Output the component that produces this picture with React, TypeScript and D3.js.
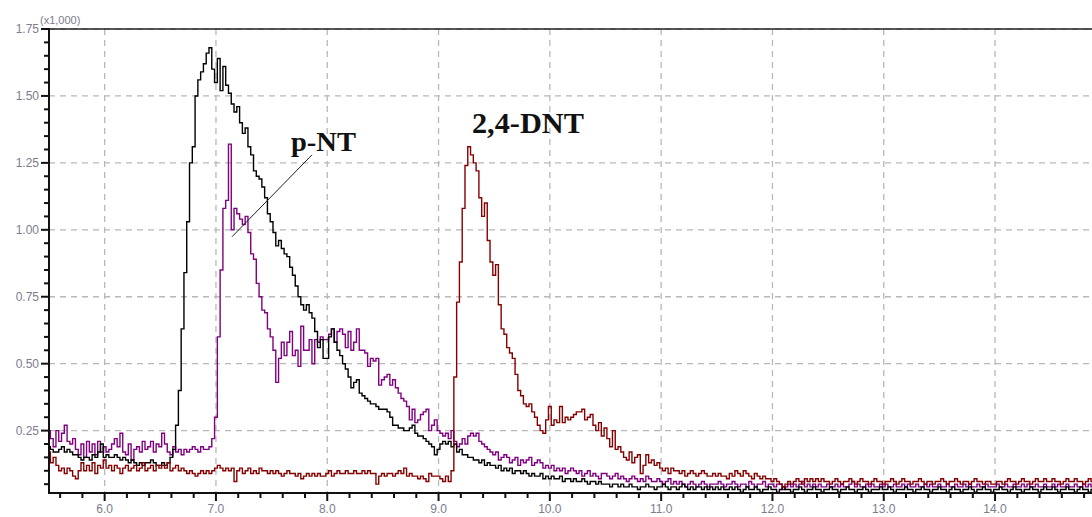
import React from "react";
import * as d3 from "d3";

// sampling of the chromatograms (minutes)
const T0 = 5.5;
const DT = 0.025;

// intensity (x1,000), one row = 0.5 min
const blackSignal = [
  0.19,0.18,0.17,0.17,0.18,0.19,0.17,0.18,0.17,0.16,0.16,0.15,0.14,0.15,0.15,0.14,0.16,0.15,0.17,0.20,
  0.15,0.16,0.15,0.15,0.16,0.15,0.14,0.15,0.14,0.13,0.14,0.13,0.12,0.13,0.12,0.13,0.13,0.14,0.13,0.12,
  0.12,0.13,0.12,0.13,0.15,0.18,0.27,0.40,0.63,0.84,1.03,1.25,1.31,1.50,1.56,1.59,1.62,1.66,1.68,1.60,
  1.55,1.64,1.52,1.61,1.54,1.51,1.47,1.44,1.46,1.40,1.36,1.38,1.31,1.28,1.22,1.20,1.19,1.16,1.12,1.06,
  1.03,0.99,0.94,0.96,0.93,0.91,0.90,0.86,0.83,0.79,0.75,0.72,0.70,0.72,0.69,0.67,0.62,0.56,0.59,0.52,
  0.52,0.60,0.63,0.58,0.55,0.53,0.50,0.48,0.45,0.41,0.43,0.44,0.39,0.38,0.37,0.36,0.35,0.35,0.34,0.33,
  0.33,0.33,0.32,0.30,0.27,0.27,0.26,0.26,0.25,0.25,0.26,0.27,0.24,0.23,0.23,0.22,0.21,0.20,0.19,0.16,
  0.18,0.20,0.21,0.20,0.21,0.19,0.20,0.17,0.18,0.16,0.16,0.15,0.15,0.14,0.14,0.13,0.14,0.12,0.13,0.12,
  0.12,0.11,0.12,0.10,0.11,0.10,0.11,0.09,0.10,0.10,0.09,0.10,0.09,0.08,0.09,0.08,0.08,0.09,0.07,0.08,
  0.07,0.08,0.07,0.07,0.08,0.06,0.07,0.07,0.06,0.07,0.06,0.06,0.07,0.06,0.05,0.06,0.06,0.05,0.06,0.05,
  0.05,0.05,0.04,0.05,0.05,0.04,0.05,0.04,0.04,0.05,0.04,0.04,0.03,0.04,0.04,0.05,0.04,0.04,0.03,0.04,
  0.04,0.05,0.04,0.03,0.04,0.04,0.03,0.04,0.05,0.04,0.03,0.04,0.03,0.04,0.04,0.03,0.04,0.03,0.04,0.03,
  0.04,0.03,0.04,0.03,0.03,0.04,0.03,0.04,0.03,0.02,0.03,0.04,0.03,0.03,0.04,0.03,0.02,0.03,0.03,0.04,
  0.03,0.03,0.02,0.03,0.04,0.03,0.03,0.02,0.03,0.03,0.04,0.03,0.02,0.03,0.03,0.04,0.03,0.03,0.02,0.03,
  0.03,0.04,0.03,0.03,0.02,0.03,0.03,0.04,0.03,0.03,0.02,0.03,0.03,0.04,0.03,0.02,0.03,0.03,0.03,0.04,
  0.03,0.03,0.04,0.03,0.02,0.03,0.03,0.03,0.04,0.03,0.03,0.02,0.03,0.03,0.04,0.03,0.03,0.02,0.03,0.03,
  0.04,0.03,0.03,0.02,0.03,0.04,0.03,0.03,0.02,0.03,0.03,0.04,0.03,0.02,0.03,0.03,0.04,0.03,0.03,0.02,
  0.03,0.03,0.04,0.03,0.03,0.02,0.03,0.04,0.03,0.03,0.02,0.03,0.03,0.04,0.03,0.03,0.02,0.03,0.04,0.03,
  0.03,0.04,0.03,0.02,0.03,0.03,0.04,0.03,0.03,0.02,0.03,0.04,0.03,0.03,0.02,0.03,0.03,0.04,0.03,0.03,
];

const purpleSignal = [
  0.25,0.22,0.19,0.25,0.21,0.24,0.27,0.21,0.20,0.22,0.18,0.16,0.20,0.15,0.21,0.17,0.20,0.16,0.21,0.17,
  0.19,0.17,0.18,0.20,0.22,0.19,0.24,0.17,0.16,0.20,0.14,0.18,0.19,0.17,0.21,0.18,0.19,0.21,0.17,0.20,
  0.19,0.24,0.20,0.17,0.16,0.19,0.17,0.18,0.16,0.18,0.17,0.18,0.19,0.18,0.17,0.19,0.18,0.18,0.19,0.22,
  0.30,0.60,0.85,1.08,1.11,1.32,1.00,1.08,1.06,1.04,1.02,1.05,0.99,0.91,0.89,0.80,0.75,0.70,0.69,0.63,
  0.60,0.55,0.43,0.52,0.58,0.53,0.58,0.62,0.53,0.55,0.49,0.64,0.55,0.55,0.59,0.50,0.59,0.58,0.60,0.59,
  0.59,0.61,0.63,0.58,0.62,0.63,0.61,0.56,0.62,0.55,0.58,0.63,0.55,0.55,0.54,0.49,0.52,0.51,0.52,0.42,
  0.44,0.45,0.46,0.42,0.44,0.41,0.39,0.37,0.36,0.34,0.29,0.33,0.28,0.29,0.31,0.32,0.33,0.25,0.27,0.29,
  0.25,0.24,0.23,0.24,0.22,0.25,0.21,0.19,0.20,0.22,0.20,0.23,0.24,0.23,0.24,0.21,0.20,0.19,0.18,0.17,
  0.16,0.17,0.14,0.15,0.16,0.15,0.13,0.14,0.15,0.12,0.14,0.13,0.14,0.15,0.12,0.13,0.14,0.13,0.11,0.12,
  0.11,0.12,0.10,0.11,0.10,0.11,0.09,0.10,0.11,0.10,0.09,0.10,0.08,0.09,0.10,0.08,0.09,0.08,0.07,0.09,
  0.09,0.08,0.07,0.08,0.09,0.07,0.08,0.07,0.06,0.07,0.08,0.07,0.06,0.07,0.06,0.08,0.07,0.06,0.06,0.07,
  0.06,0.05,0.06,0.07,0.05,0.06,0.05,0.06,0.05,0.04,0.05,0.06,0.05,0.04,0.05,0.06,0.05,0.04,0.05,0.05,
  0.05,0.06,0.05,0.04,0.05,0.05,0.06,0.05,0.04,0.05,0.05,0.04,0.06,0.05,0.04,0.05,0.05,0.06,0.04,0.05,
  0.05,0.04,0.05,0.05,0.03,0.04,0.05,0.04,0.05,0.04,0.05,0.06,0.04,0.05,0.04,0.05,0.04,0.05,0.04,0.04,
  0.05,0.04,0.04,0.05,0.04,0.05,0.04,0.04,0.05,0.06,0.04,0.05,0.04,0.04,0.05,0.04,0.05,0.04,0.04,0.05,
  0.04,0.05,0.04,0.04,0.05,0.04,0.04,0.05,0.04,0.05,0.04,0.04,0.05,0.04,0.04,0.05,0.04,0.05,0.04,0.04,
  0.05,0.04,0.04,0.05,0.04,0.04,0.05,0.04,0.04,0.05,0.04,0.05,0.04,0.04,0.05,0.04,0.04,0.05,0.04,0.04,
  0.04,0.05,0.04,0.04,0.05,0.04,0.04,0.05,0.04,0.04,0.05,0.04,0.05,0.04,0.04,0.05,0.04,0.04,0.05,0.04,
  0.04,0.05,0.04,0.05,0.04,0.04,0.05,0.04,0.04,0.05,0.04,0.04,0.05,0.04,0.05,0.04,0.04,0.05,0.04,0.04,
];

const redSignal = [
  0.17,0.13,0.15,0.12,0.10,0.11,0.09,0.11,0.10,0.08,0.07,0.10,0.13,0.10,0.12,0.10,0.13,0.09,0.12,0.11,
  0.14,0.11,0.12,0.10,0.12,0.11,0.09,0.11,0.12,0.10,0.11,0.12,0.10,0.11,0.13,0.10,0.11,0.12,0.10,0.12,
  0.11,0.12,0.11,0.13,0.10,0.11,0.12,0.10,0.11,0.10,0.09,0.10,0.09,0.08,0.09,0.10,0.09,0.10,0.09,0.10,
  0.11,0.12,0.11,0.10,0.11,0.10,0.11,0.06,0.10,0.11,0.09,0.10,0.11,0.09,0.10,0.09,0.11,0.10,0.10,0.09,
  0.10,0.09,0.10,0.09,0.08,0.09,0.10,0.09,0.09,0.08,0.09,0.07,0.08,0.09,0.08,0.09,0.08,0.09,0.08,0.08,
  0.09,0.10,0.08,0.09,0.10,0.09,0.09,0.10,0.09,0.09,0.10,0.09,0.09,0.10,0.09,0.10,0.09,0.09,0.05,0.08,
  0.09,0.08,0.09,0.09,0.08,0.09,0.10,0.09,0.11,0.08,0.09,0.08,0.08,0.07,0.08,0.07,0.06,0.09,0.08,0.08,
  0.08,0.07,0.06,0.08,0.06,0.10,0.45,0.73,0.88,1.08,1.24,1.31,1.28,1.25,1.22,1.12,1.05,1.10,0.96,0.88,
  0.83,0.87,0.72,0.63,0.61,0.56,0.54,0.52,0.46,0.40,0.38,0.35,0.34,0.35,0.32,0.30,0.27,0.25,0.24,0.29,
  0.34,0.27,0.29,0.28,0.34,0.28,0.30,0.29,0.30,0.31,0.32,0.32,0.33,0.29,0.30,0.31,0.27,0.25,0.28,0.23,
  0.26,0.22,0.19,0.25,0.18,0.19,0.17,0.15,0.14,0.17,0.13,0.15,0.16,0.09,0.12,0.16,0.13,0.14,0.12,0.13,
  0.11,0.10,0.11,0.09,0.11,0.10,0.10,0.09,0.10,0.08,0.09,0.10,0.09,0.08,0.09,0.10,0.09,0.08,0.08,0.09,
  0.08,0.09,0.08,0.08,0.07,0.09,0.08,0.10,0.09,0.08,0.10,0.09,0.08,0.07,0.09,0.08,0.07,0.08,0.07,0.07,
  0.06,0.07,0.06,0.05,0.04,0.05,0.06,0.05,0.06,0.07,0.06,0.05,0.07,0.06,0.07,0.06,0.07,0.06,0.07,0.06,
  0.06,0.05,0.06,0.07,0.06,0.05,0.06,0.06,0.07,0.06,0.05,0.06,0.07,0.06,0.06,0.05,0.06,0.07,0.06,0.06,
  0.05,0.06,0.06,0.07,0.06,0.05,0.06,0.07,0.06,0.06,0.05,0.06,0.06,0.07,0.06,0.05,0.06,0.06,0.05,0.06,
  0.06,0.07,0.06,0.05,0.06,0.06,0.07,0.06,0.05,0.06,0.06,0.05,0.06,0.07,0.06,0.06,0.05,0.06,0.06,0.05,
  0.05,0.06,0.06,0.05,0.06,0.07,0.06,0.06,0.05,0.06,0.07,0.06,0.06,0.05,0.06,0.07,0.06,0.06,0.07,0.06,
  0.06,0.07,0.06,0.06,0.05,0.06,0.07,0.06,0.06,0.07,0.06,0.06,0.05,0.06,0.07,0.06,0.06,0.05,0.06,0.06,
];

const xMajorTicks = [6, 7, 8, 9, 10, 11, 12, 13, 14];
const yMajorTicks = [0.25, 0.5, 0.75, 1.0, 1.25, 1.5, 1.75];
const yUnitLabel = "(x1,000)";

const peakLabels = [
  { text: "p-NT", t: 7.674, v: 1.295, size: 27, width: 65 },
  { text: "2,4-DNT", t: 9.3, v: 1.362, size: 29, width: 112 },
];
const pointerLine: [number, number][] = [
  [7.863, 1.28],
  [7.144, 0.974],
];

const W = 1092;
const H = 517;
const M = { left: 49, top: 29, bottom: 493 };

export default function App() {
  const x = d3.scaleLinear().domain([5.5, 15]).range([M.left, M.left + 9.5 * 111.3]);
  const y = d3.scaleLinear().domain([0.017, 1.75]).range([M.bottom, M.top]);
  const right = W + 20;

  const toPts = (vals: number[]) => vals.map((v, i) => [T0 + i * DT, v] as [number, number]);
  const line = d3
    .line<[number, number]>()
    .x((d) => x(d[0]))
    .y((d) => y(d[1]))
    .curve(d3.curveStep);

  const xMinor = d3.range(5.6, 15.0, 0.2).filter((t) => Math.abs(t - Math.round(t)) > 0.01);
  const yMinor = d3.range(0.05, 1.76, 0.05).filter((v) => Math.abs(v * 4 - Math.round(v * 4)) > 0.01);

  const labelColor = "#7c7c8e";
  const gridColor = "#b8b8b8";

  return (
    <svg
      width={W}
      height={H}
      style={{ position: "absolute", left: 0, top: 0, background: "#fff" }}
      fontFamily="'Liberation Sans', Arial, sans-serif"
    >
      <defs>
        <clipPath id="plot">
          <rect x={M.left} y={M.top - 2} width={right - M.left} height={M.bottom - M.top + 2} />
        </clipPath>
      </defs>
      <rect x={0} y={0} width={W} height={H} fill="#fff" />
      {/* grid */}
      {xMajorTicks.map((t) => (
        <line key={"gx" + t} x1={x(t)} x2={x(t)} y1={M.top} y2={M.bottom} stroke={gridColor} strokeWidth={1.3} strokeDasharray="6,5" />
      ))}
      {yMajorTicks.map((v) => (
        <line key={"gy" + v} x1={M.left} x2={right} y1={y(v)} y2={y(v)} stroke={gridColor} strokeWidth={1.3} strokeDasharray="6,5" />
      ))}
      {/* traces */}
      <g clipPath="url(#plot)" fill="none" strokeWidth={1.4} strokeLinejoin="miter">
        <path d={line(toPts(purpleSignal)) || ""} stroke="#800080" />
        <path d={line(toPts(blackSignal)) || ""} stroke="#000" />
        <path d={line(toPts(redSignal)) || ""} stroke="#850000" />
      </g>
      {/* frame */}
      <line x1={M.left} x2={right} y1={M.top} y2={M.top} stroke="#222" strokeWidth={1.5} />
      <line x1={M.left} x2={M.left} y1={M.top - 1} y2={M.bottom + 1} stroke="#111" strokeWidth={2} />
      <line x1={M.left} x2={right} y1={M.bottom} y2={M.bottom} stroke="#111" strokeWidth={2} />
      {/* y ticks */}
      {yMajorTicks.map((v) => (
        <g key={"yt" + v}>
          <line x1={M.left - 8} x2={M.left} y1={y(v)} y2={y(v)} stroke="#111" strokeWidth={2} />
          <text x={M.left - 10} y={y(v)} dy="0.35em" textAnchor="end" fontSize={12} fill={labelColor}>
            {v.toFixed(2)}
          </text>
        </g>
      ))}
      {yMinor.map((v) => (
        <line key={"ym" + v} x1={M.left - 5} x2={M.left} y1={y(v)} y2={y(v)} stroke="#111" strokeWidth={2} />
      ))}
      <text x={40} y={24} fontSize={11} fill={labelColor}>
        {yUnitLabel}
      </text>
      {/* x ticks */}
      {xMajorTicks.map((t) => (
        <g key={"xt" + t}>
          <line x1={x(t)} x2={x(t)} y1={M.bottom} y2={M.bottom + 8} stroke="#111" strokeWidth={2} />
          <text x={x(t)} y={513} textAnchor="middle" fontSize={12} fill={labelColor}>
            {t.toFixed(1)}
          </text>
        </g>
      ))}
      {xMinor.map((t) => (
        <line key={"xm" + t.toFixed(1)} x1={x(t)} x2={x(t)} y1={M.bottom} y2={M.bottom + 5} stroke="#111" strokeWidth={2} />
      ))}
      {/* annotations */}
      <line
        x1={x(pointerLine[0][0])}
        y1={y(pointerLine[0][1])}
        x2={x(pointerLine[1][0])}
        y2={y(pointerLine[1][1])}
        stroke="#222"
        strokeWidth={1}
      />
      {peakLabels.map((l) => (
        <text
          key={l.text}
          x={x(l.t)}
          y={y(l.v)}
          fontFamily="'Liberation Serif', 'Times New Roman', serif"
          fontWeight="bold"
          fontSize={l.size}
          textLength={l.width}
          lengthAdjust="spacingAndGlyphs"
          fill="#111"
        >
          {l.text}
        </text>
      ))}
    </svg>
  );
}
